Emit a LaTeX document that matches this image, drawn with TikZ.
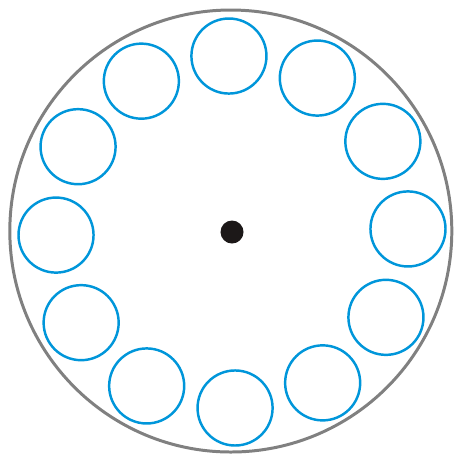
\documentclass[tikz,border=0pt]{standalone}
\usepackage{xcolor}
\usepackage{tikz}
\usetikzlibrary{calc}
\definecolor{ringblue}{RGB}{0,150,218}
\definecolor{rimgray}{RGB}{128,128,128}
\definecolor{hubblack}{RGB}{28,24,24}

\begin{document}
\begin{tikzpicture}[
    x=0.01cm, y=-0.01cm,
    slot/.style={circle, draw=ringblue, line width=0.7pt, minimum size=0.75cm, inner sep=0pt},
    hub/.style={circle, fill=hubblack, minimum size=0.23cm, inner sep=0pt}
]
    \useasboundingbox (0,0) rectangle (455,454);
    \draw[rimgray, line width=0.85pt] (230.8,231) circle[radius=221];
    \node[hub] (hub) at (232,232) {};
    \foreach \i in {0,...,11} {
        \node[slot] (slot\i) at ($(hub)+({176*cos(1+30*\i)},{-176*sin(1+30*\i)})$) {};
    }
\end{tikzpicture}
\end{document}
